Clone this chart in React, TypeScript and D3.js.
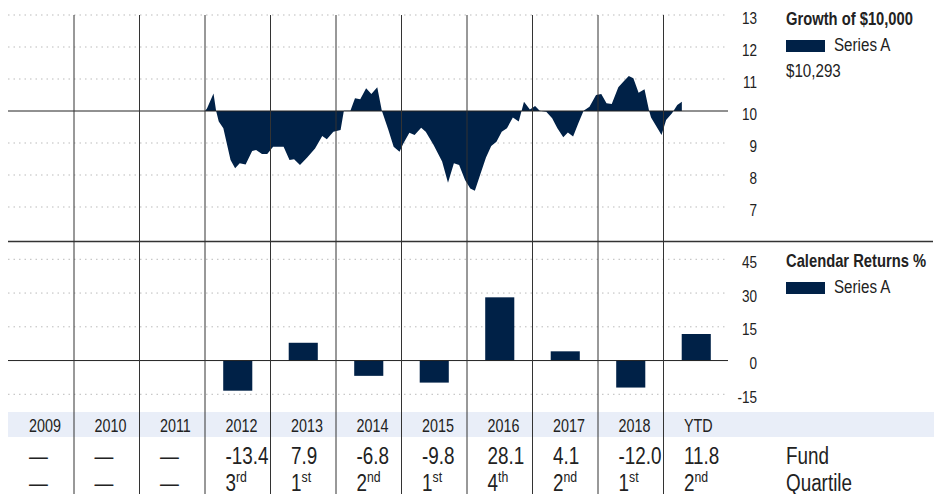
import * as d3 from "d3";
import type { ReactNode } from "react";

const years = ["2009", "2010", "2011", "2012", "2013", "2014", "2015", "2016", "2017", "2018", "YTD"];
const fundReturns: (number | null)[] = [null, null, null, -13.4, 7.9, -6.8, -9.8, 28.1, 4.1, -12.0, 11.8];
const quartiles: (number | null)[] = [null, null, null, 3, 1, 2, 1, 4, 2, 1, 2];

const growthTicks = [7, 8, 9, 10, 11, 12, 13];
const returnTicks = [-15, 0, 15, 30, 45];

// growth of 10,000 in thousands
const growthYears = [
  2012.0, 2012.03, 2012.13, 2012.17, 2012.21, 2012.28, 2012.39, 2012.46, 2012.53, 2012.62, 2012.72, 2012.78,
  2012.87, 2012.95, 2013.04, 2013.2, 2013.29, 2013.36, 2013.45, 2013.56, 2013.68, 2013.79, 2013.86, 2013.96,
  2014.07, 2014.12, 2014.22, 2014.29, 2014.37, 2014.46, 2014.54, 2014.63, 2014.7, 2014.8, 2014.88, 2014.97,
  2015.03, 2015.12, 2015.2, 2015.3, 2015.37, 2015.49, 2015.62, 2015.71, 2015.8, 2015.88, 2015.97, 2016.05,
  2016.12, 2016.2, 2016.29, 2016.37, 2016.45, 2016.53, 2016.61, 2016.7, 2016.79, 2016.87, 2016.96, 2017.04,
  2017.11, 2017.21, 2017.3, 2017.38, 2017.47, 2017.54, 2017.62, 2017.7, 2017.78, 2017.87, 2017.97, 2018.05,
  2018.13, 2018.21, 2018.31, 2018.39, 2018.47, 2018.54, 2018.62, 2018.71, 2018.78, 2018.81, 2018.97, 2019.04,
  2019.13, 2019.21, 2019.28,
];
const growthValues = [
  10.0, 10.08, 10.55, 10.0, 9.67, 9.46, 8.47, 8.21, 8.37, 8.33, 8.75, 8.78,
  8.66, 8.66, 8.88, 8.88, 8.47, 8.49, 8.31, 8.55, 8.83, 9.22, 9.12, 9.35,
  9.41, 10.01, 10.01, 10.4, 10.37, 10.71, 10.53, 10.74, 10.01, 9.41, 8.88, 8.73,
  8.99, 9.32, 9.25, 9.48, 9.35, 8.94, 8.42, 7.76, 8.37, 8.31, 7.84, 7.58,
  7.51, 8.0, 8.55, 8.91, 9.04, 9.35, 9.46, 9.8, 9.67, 10.29, 10.05, 10.16,
  10.01, 9.98, 9.77, 9.46, 9.18, 9.33, 9.2, 9.62, 10.01, 10.13, 10.5, 10.53,
  10.24, 10.22, 10.74, 10.92, 11.09, 11.02, 10.57, 10.68, 10.01, 9.8, 9.25, 9.72,
  9.93, 10.19, 10.29,
];

const NAVY = "#002147";
const INK = "#222";
const FONT = "'Liberation Sans', Arial, sans-serif";
const NARROW = 0.82; // squeeze to look like a condensed face

const suffix = (q: number) => (q === 1 ? "st" : q === 2 ? "nd" : q === 3 ? "rd" : "th");

type TProps = {
  x: number;
  y: number;
  size: number;
  bold?: boolean;
  anchor?: "start" | "end" | "middle";
  children: ReactNode;
};

const T = ({ x, y, size, bold, anchor = "start", children }: TProps) => (
  <text
    transform={`translate(${x},${y}) scale(${NARROW},1)`}
    fontSize={size}
    fontWeight={bold ? "bold" : "normal"}
    textAnchor={anchor}
    fill={INK}
  >
    {children}
  </text>
);

export default function App() {
  const width = 949;
  const height = 494;
  const left = 8.5;
  const right = 729;
  const gridRight = 728;
  const labelX = 757;
  const legendX = 786;

  const x = d3.scaleLinear().domain([2009, 2009 + years.length]).range([left, right]);
  const xBand = d3.scaleBand().domain(years).range([left, right]).paddingInner(0.556).paddingOuter(0.278);

  const yGrowth = d3.scaleLinear().domain([7, 13]).range([207, 15]);
  const yRet = d3.scaleLinear().domain([-15, 45]).range([394.3, 259.3]);

  const area = d3
    .area<number>()
    .x((_, i) => x(growthYears[i]))
    .y0(yGrowth(10))
    .y1((d) => yGrowth(d));

  return (
    <svg
      width={width}
      height={height}
      viewBox={`0 0 ${width} ${height}`}
      style={{ position: "absolute", left: 0, top: 0, fontFamily: FONT }}
    >
      <rect width={width} height={height} fill="#fff" />

      {/* table header band */}
      <rect x={8} y={412} width={926} height={25} fill="#e9eef8" />

      {/* growth grid */}
      <g className="growth-grid">
        {growthTicks
          .filter((t) => t !== 10)
          .map((t) => (
            <line
              key={t}
              x1={8}
              x2={gridRight}
              y1={yGrowth(t)}
              y2={yGrowth(t)}
              stroke="#bbb"
              strokeWidth={1}
              strokeDasharray="1.5,4"
            />
          ))}
      </g>

      {/* returns grid */}
      <g className="returns-grid">
        {returnTicks
          .filter((t) => t !== 0)
          .map((t) => (
            <line
              key={t}
              x1={8}
              x2={gridRight}
              y1={yRet(t)}
              y2={yRet(t)}
              stroke="#bbb"
              strokeWidth={1}
              strokeDasharray="1.5,4"
            />
          ))}
      </g>

      <path d={area(growthValues) ?? ""} fill={NAVY} />
      <line x1={8} x2={gridRight} y1={yGrowth(10)} y2={yGrowth(10)} stroke={INK} strokeWidth={1} />

      <g className="bars">
        {years.map((yr, i) => {
          const v = fundReturns[i];
          if (v === null) return null;
          return (
            <rect
              key={yr}
              x={xBand(yr)}
              width={xBand.bandwidth()}
              y={yRet(Math.max(0, v))}
              height={Math.abs(yRet(v) - yRet(0))}
              fill={NAVY}
            />
          );
        })}
      </g>
      <line x1={8} x2={gridRight} y1={yRet(0)} y2={yRet(0)} stroke={INK} strokeWidth={1} />

      {/* column dividers */}
      <g className="dividers">
        {years.slice(1).map((yr, i) => (
          <line key={yr} x1={x(2010 + i)} x2={x(2010 + i)} y1={15} y2={height} stroke="#333" strokeWidth={1} />
        ))}
      </g>

      {/* separator between panels */}
      <line x1={8} x2={933} y1={241.5} y2={241.5} stroke="#333" strokeWidth={1.5} />

      {/* axis labels */}
      {growthTicks.map((t) => (
        <T key={`g${t}`} x={labelX} y={yGrowth(t) + 8.5} size={16.5} anchor="end">
          {t}
        </T>
      ))}
      {returnTicks.map((t) => (
        <T key={`r${t}`} x={labelX} y={yRet(t) + 8.5} size={16.5} anchor="end">
          {t}
        </T>
      ))}

      {/* legends */}
      <T x={legendX} y={25} size={18} bold>
        Growth of $10,000
      </T>
      <rect x={legendX} y={40} width={39} height={12} fill={NAVY} />
      <T x={834} y={51} size={18.5}>
        Series A
      </T>
      <T x={legendX} y={77} size={18.5}>
        $10,293
      </T>

      <T x={legendX} y={267} size={18} bold>
        Calendar Returns %
      </T>
      <rect x={legendX} y={282} width={39} height={12} fill={NAVY} />
      <T x={834} y={293} size={18.5}>
        Series A
      </T>

      {/* table */}
      {years.map((yr, i) => {
        const cx = x(2009 + i) + 20.5;
        const v = fundReturns[i];
        const q = quartiles[i];
        return (
          <g key={yr}>
            <T x={cx} y={432} size={17.5}>
              {yr}
            </T>
            <T x={cx} y={464} size={23}>
              {v === null ? "—" : v.toFixed(1)}
            </T>
            <T x={cx} y={491} size={23}>
              {q === null ? (
                "—"
              ) : (
                <>
                  {q}
                  <tspan fontSize={15} dy={-9}>
                    {suffix(q)}
                  </tspan>
                </>
              )}
            </T>
          </g>
        );
      })}
      <T x={legendX} y={464} size={23}>
        Fund
      </T>
      <T x={legendX} y={491} size={23}>
        Quartile
      </T>
    </svg>
  );
}
